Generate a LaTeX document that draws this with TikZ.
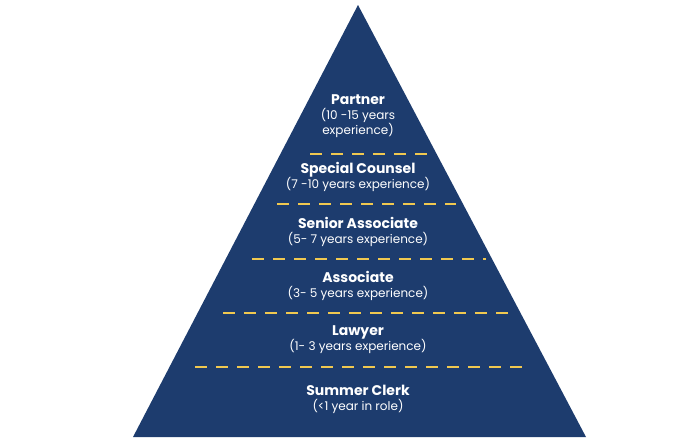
\documentclass[tikz,border=0pt]{standalone}
\usepackage{fontspec}
\setmainfont{Poppins}
\definecolor{navy}{HTML}{1D3C6E}
\definecolor{gold}{HTML}{F0C850}
\tikzset{
  level/.style={text=white, align=center, font=\fontsize{12}{15}\selectfont, inner sep=0pt},
  divider/.style={gold, line width=2.6pt, dash pattern=on 12pt off 9pt},
}
\begin{document}
\begin{tikzpicture}[x=1pt,y=-1pt]
    \useasboundingbox (0,0) rectangle (700,440);
    \fill[navy] (358,5) -- (586,437) -- (133,437) -- cycle;

    % levels, top to bottom
    \node[level] (partner) at (358,116) {\textbf{\fontsize{14}{17}\selectfont Partner}\\(10 -15 years\\experience)};
    \node[level] (counsel) at (358,177) {\textbf{\fontsize{14}{17}\selectfont Special Counsel}\\(7 -10 years experience)};
    \node[level] (senior) at (358,232) {\textbf{\fontsize{14}{17}\selectfont Senior Associate}\\(5- 7 years experience)};
    \node[level] (assoc) at (358,286) {\textbf{\fontsize{14}{17}\selectfont Associate}\\(3- 5 years experience)};
    \node[level] (lawyer) at (358,340) {\textbf{\fontsize{14}{17}\selectfont Lawyer}\\(1- 3 years experience)};
    \node[level] (clerk) at (358,399) {\textbf{\fontsize{14}{17}\selectfont Summer Clerk}\\(<1 year in role)};

    % dashed dividers
    \draw[divider] (310,154) -- (433,154);
    \draw[divider] (277,204) -- (456,204);
    \draw[divider] (252,259) -- (486,259);
    \draw[divider] (223,313) -- (512,313);
    \draw[divider] (195,367) -- (530,367);
\end{tikzpicture}
\end{document}
